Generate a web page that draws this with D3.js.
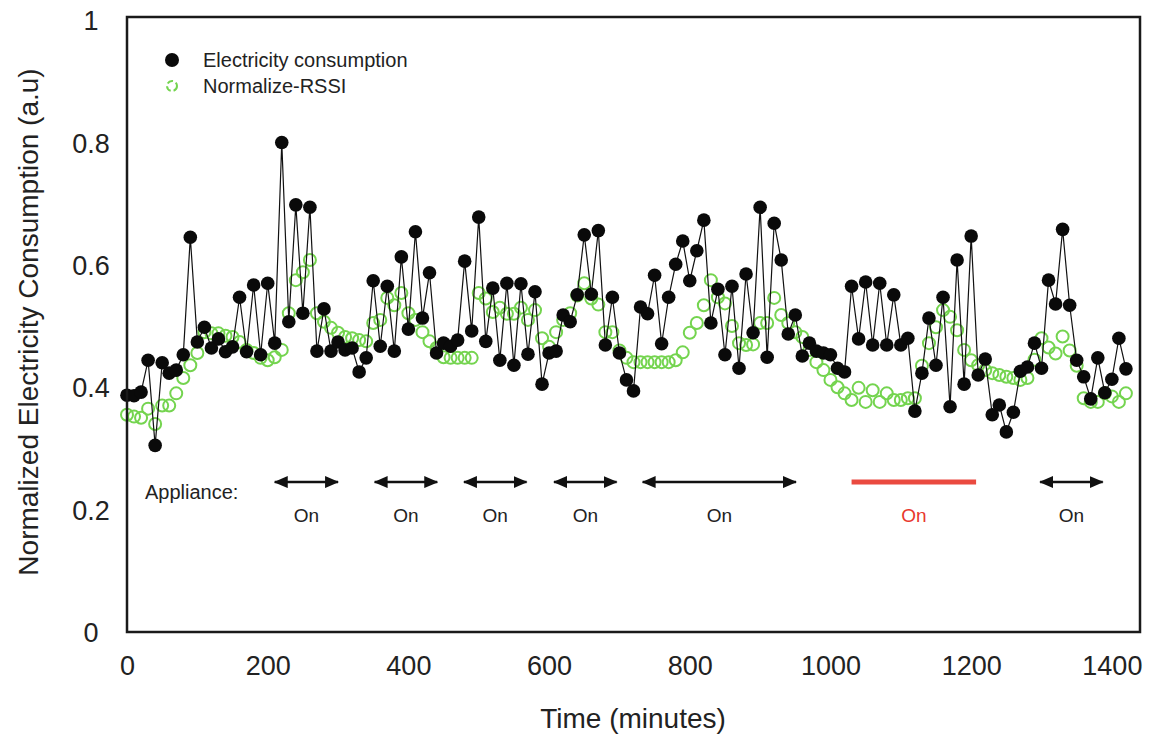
<!DOCTYPE html>
<html>
<head>
<meta charset="utf-8">
<script src="https://cdn.jsdelivr.net/npm/d3@7"></script>
<style>
  body { margin: 0; background: #fff; }
  text { font-family: "Liberation Sans", Arial, Helvetica, sans-serif; fill: #222; }
</style>
</head>
<body>
<div id="chart"></div>
<script>
// time step is 10 minutes, 0 .. 1420
var times = d3.range(0, 1430, 10);

var electricity = [
  0.387, 0.386, 0.392, 0.444, 0.305, 0.440, 0.423, 0.428, 0.453, 0.645,
  0.474, 0.498, 0.464, 0.479, 0.458, 0.466, 0.547, 0.458, 0.567, 0.453,
  0.570, 0.472, 0.800, 0.507, 0.698, 0.521, 0.694, 0.459, 0.528, 0.459,
  0.474, 0.461, 0.464, 0.425, 0.448, 0.574, 0.467, 0.565, 0.459, 0.613,
  0.495, 0.654, 0.513, 0.587, 0.456, 0.472, 0.467, 0.477, 0.606, 0.492,
  0.678, 0.475, 0.562, 0.444, 0.570, 0.436, 0.569, 0.454, 0.556, 0.405,
  0.456, 0.459, 0.518, 0.507, 0.551, 0.649, 0.552, 0.656, 0.469, 0.547,
  0.456, 0.412, 0.394, 0.531, 0.520, 0.583, 0.471, 0.547, 0.601, 0.639,
  0.574, 0.623, 0.673, 0.505, 0.560, 0.453, 0.565, 0.431, 0.585, 0.489,
  0.694, 0.449, 0.668, 0.608, 0.487, 0.518, 0.451, 0.472, 0.459, 0.456,
  0.453, 0.431, 0.425, 0.565, 0.479, 0.572, 0.469, 0.570, 0.469, 0.551,
  0.469, 0.480, 0.361, 0.423, 0.513, 0.436, 0.547, 0.368, 0.608, 0.405,
  0.647, 0.420, 0.446, 0.355, 0.371, 0.327, 0.359, 0.426, 0.433, 0.472,
  0.431, 0.575, 0.536, 0.658, 0.534, 0.444, 0.417, 0.381, 0.448, 0.391,
  0.413, 0.480, 0.430
];

var rssi = [
  0.355, 0.352, 0.350, 0.365, 0.340, 0.370, 0.370, 0.390, 0.415, 0.436,
  0.456, 0.490, 0.488, 0.488, 0.484, 0.482, 0.474, 0.461, 0.456, 0.448,
  0.444, 0.449, 0.461, 0.521, 0.575, 0.588, 0.608, 0.521, 0.507, 0.497,
  0.489, 0.482, 0.480, 0.477, 0.475, 0.505, 0.510, 0.546, 0.534, 0.554,
  0.521, 0.510, 0.490, 0.475, 0.464, 0.449, 0.448, 0.448, 0.448, 0.448,
  0.554, 0.545, 0.523, 0.530, 0.520, 0.520, 0.530, 0.510, 0.526, 0.480,
  0.466, 0.490, 0.510, 0.521, 0.550, 0.570, 0.545, 0.535, 0.490, 0.490,
  0.460, 0.448, 0.441, 0.441, 0.441, 0.441, 0.441, 0.441, 0.444, 0.457,
  0.489, 0.505, 0.534, 0.575, 0.547, 0.537, 0.500, 0.472, 0.469, 0.470,
  0.505, 0.505, 0.546, 0.518, 0.505, 0.490, 0.482, 0.461, 0.441, 0.428,
  0.412, 0.400, 0.390, 0.379, 0.399, 0.376, 0.395, 0.376, 0.390, 0.379,
  0.379, 0.382, 0.382, 0.435, 0.472, 0.498, 0.526, 0.515, 0.493, 0.461,
  0.444, 0.436, 0.428, 0.423, 0.420, 0.417, 0.415, 0.412, 0.415, 0.445,
  0.480, 0.465, 0.455, 0.483, 0.460, 0.435, 0.382, 0.376, 0.376, 0.390,
  0.385, 0.376, 0.390
];

// appliance "On" periods (minutes)
var onStart = [210, 352, 479, 607, 733, 1030, 1298];
var onEnd   = [300, 441, 568, 696, 951, 1207, 1387];
var onColor = ['#111', '#111', '#111', '#111', '#111', '#e8372c', '#111'];

var xTicks = [0, 200, 400, 600, 800, 1000, 1200, 1400];
var yTicks = [0, 0.2, 0.4, 0.6, 0.8, 1];

const width = 1149;
const height = 737;
const green = '#74d44f';

const svg = d3.select('#chart')
    .append('svg')
    .attr('width', width)
    .attr('height', height);

var x = d3.scaleLinear()
    .domain([0, 1440])
    .range([127, 1140]);

var y = d3.scaleLinear()
    .domain([0, 1.005])
    .range([632, 17]);

var defs = svg.append('defs');
defs.append('marker')
    .attr('id', 'headEnd')
    .attr('viewBox', '0 0 14 12')
    .attr('refX', 13).attr('refY', 6)
    .attr('markerWidth', 14).attr('markerHeight', 12)
    .attr('markerUnits', 'userSpaceOnUse')
    .attr('orient', 'auto')
    .append('path').attr('d', 'M0,0 L14,6 L0,12 z').attr('fill', '#111');
defs.append('marker')
    .attr('id', 'headStart')
    .attr('viewBox', '0 0 14 12')
    .attr('refX', 1).attr('refY', 6)
    .attr('markerWidth', 14).attr('markerHeight', 12)
    .attr('markerUnits', 'userSpaceOnUse')
    .attr('orient', 'auto')
    .append('path').attr('d', 'M14,0 L0,6 L14,12 z').attr('fill', '#111');

// x axis, no tick marks
var xAxis = svg.append('g')
    .attr('transform', 'translate(0,' + y(0) + ')')
    .call(d3.axisBottom(x).tickValues(xTicks).tickSize(0).tickPadding(24).tickFormat(d3.format('d')));
xAxis.select('.domain').remove();
xAxis.selectAll('text')
    .attr('font-size', '27px')
    .attr('fill', '#222')
    .style('font-family', '"Liberation Sans", Arial, sans-serif');

// y axis, labels centred
var yAxis = svg.append('g')
    .attr('transform', 'translate(91,0)')
    .call(d3.axisLeft(y).tickValues(yTicks).tickSize(0).tickFormat(d3.format('')));
yAxis.select('.domain').remove();
yAxis.selectAll('text')
    .attr('x', 0)
    .attr('dy', '0.36em')
    .attr('text-anchor', 'middle')
    .attr('font-size', '27px')
    .attr('fill', '#222')
    .style('font-family', '"Liberation Sans", Arial, sans-serif');

// titles
svg.append('text')
    .attr('x', 633)
    .attr('y', 728)
    .attr('text-anchor', 'middle')
    .attr('font-size', '28px')
    .text('Time (minutes)');

svg.append('text')
    .attr('transform', 'translate(38,322) rotate(-90)')
    .attr('text-anchor', 'middle')
    .attr('font-size', '28px')
    .text('Normalized Electricity Consumption (a.u)');

// rssi open circles
svg.append('g').selectAll('circle')
    .data(rssi)
    .enter()
    .append('circle')
    .attr('cx', function(d, i) { return x(times[i]); })
    .attr('cy', function(d) { return y(d); })
    .attr('r', 6)
    .attr('fill', 'none')
    .attr('stroke', green)
    .attr('stroke-width', 2);

// electricity line + dots
var line = d3.line()
    .x(function(d, i) { return x(times[i]); })
    .y(function(d) { return y(d); });

svg.append('path')
    .datum(electricity)
    .attr('d', line)
    .attr('fill', 'none')
    .attr('stroke', '#111')
    .attr('stroke-width', 1.2);

svg.append('g').selectAll('circle')
    .data(electricity)
    .enter()
    .append('circle')
    .attr('cx', function(d, i) { return x(times[i]); })
    .attr('cy', function(d) { return y(d); })
    .attr('r', 6.8)
    .attr('fill', '#0a0a0a');

// appliance arrows
svg.append('text')
    .attr('x', 145)
    .attr('y', 499)
    .attr('font-size', '20px')
    .text('Appliance:');

onStart.forEach(function(s, i) {
    var isRed = onColor[i] !== '#111';
    var seg = svg.append('line')
        .attr('x1', x(s)).attr('x2', x(onEnd[i]))
        .attr('y1', y(0.245)).attr('y2', y(0.245))
        .attr('stroke', onColor[i]);
    if (isRed) {
        seg.attr('stroke-width', 5).attr('opacity', 0.9);
    } else {
        seg.attr('stroke-width', 2.4)
           .attr('marker-start', 'url(#headStart)')
           .attr('marker-end', 'url(#headEnd)');
    }
    svg.append('text')
        .attr('x', x((s + onEnd[i]) / 2))
        .attr('y', 522)
        .attr('text-anchor', 'middle')
        .attr('font-size', '19px')
        .style('fill', isRed ? '#e8372c' : '#222')
        .text('On');
});

// legend
svg.append('circle').attr('cx', 172).attr('cy', 60).attr('r', 7).attr('fill', '#0a0a0a');
svg.append('circle').attr('cx', 172).attr('cy', 86).attr('r', 5)
    .attr('fill', 'none').attr('stroke', green).attr('stroke-width', 2)
    .attr('stroke-dasharray', '6,3');
svg.append('text').attr('x', 203).attr('y', 67).attr('font-size', '20px').text('Electricity consumption');
svg.append('text').attr('x', 203).attr('y', 93).attr('font-size', '20px').text('Normalize-RSSI');

// frame
svg.append('rect')
    .attr('x', x(0))
    .attr('y', y(1.005))
    .attr('width', x(1440) - x(0))
    .attr('height', y(0) - y(1.005))
    .attr('fill', 'none')
    .attr('stroke', '#1a1a1a')
    .attr('stroke-width', 2.5);
</script>
</body>
</html>
